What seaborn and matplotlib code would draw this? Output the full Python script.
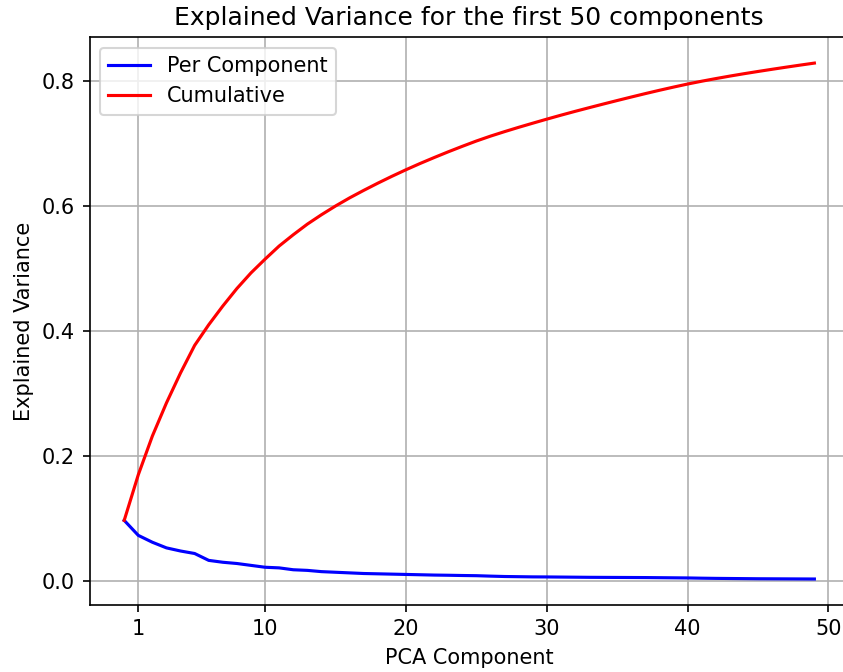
import matplotlib
matplotlib.use("Agg")
import matplotlib.pyplot as plt
import seaborn as sns
import numpy as np

components = list(range(50))

per_component = [
    0.097, 0.073, 0.062, 0.053, 0.048, 0.044, 0.033, 0.030, 0.028, 0.025, 0.022,
    0.021, 0.018, 0.017, 0.015, 0.014,
    0.0130, 0.0120, 0.0115, 0.0110, 0.0105,
    0.0100, 0.0095, 0.0092, 0.0088, 0.0085,
    0.0078, 0.0072, 0.0069, 0.0066, 0.0065,
    0.0063, 0.0061, 0.0059, 0.0058, 0.0057, 0.0056, 0.0055, 0.0053, 0.0051, 0.0049,
    0.0045, 0.0042, 0.0040, 0.0038, 0.0036, 0.0035, 0.0034, 0.0033, 0.0032,
]

cumulative = [
    0.097, 0.170, 0.232, 0.285, 0.333, 0.377, 0.410, 0.440, 0.468, 0.493,
    0.515, 0.536, 0.554, 0.571, 0.586, 0.600, 0.613, 0.625, 0.6365, 0.6475,
    0.658, 0.668, 0.6775, 0.6867, 0.6955, 0.704, 0.7118, 0.719, 0.7259, 0.7325,
    0.739, 0.7453, 0.7514, 0.7573, 0.7631, 0.7688, 0.7744, 0.7799, 0.7852, 0.7903,
    0.7952, 0.7997, 0.8039, 0.8079, 0.8117, 0.8153, 0.8188, 0.8222, 0.8255, 0.8287,
]

x_ticks = [1, 10, 20, 30, 40, 50]

fig = plt.figure(figsize=(843 / 150, 672 / 150), dpi=150)
ax = fig.add_axes([89.7 / 843, 0.100, 759.2 / 843, 0.8445])

sns.lineplot(x=components, y=per_component, color="blue", label="Per Component", ax=ax)
sns.lineplot(x=components, y=cumulative, color="red", label="Cumulative", ax=ax)

ax.set_xticks(x_ticks)
ax.grid(True)
ax.set_xlabel("PCA Component")
ax.set_ylabel("Explained Variance")
ax.set_title("Explained Variance for the first 50 components")
ax.legend(loc="upper left")

fig.savefig("out.png", dpi=150)
